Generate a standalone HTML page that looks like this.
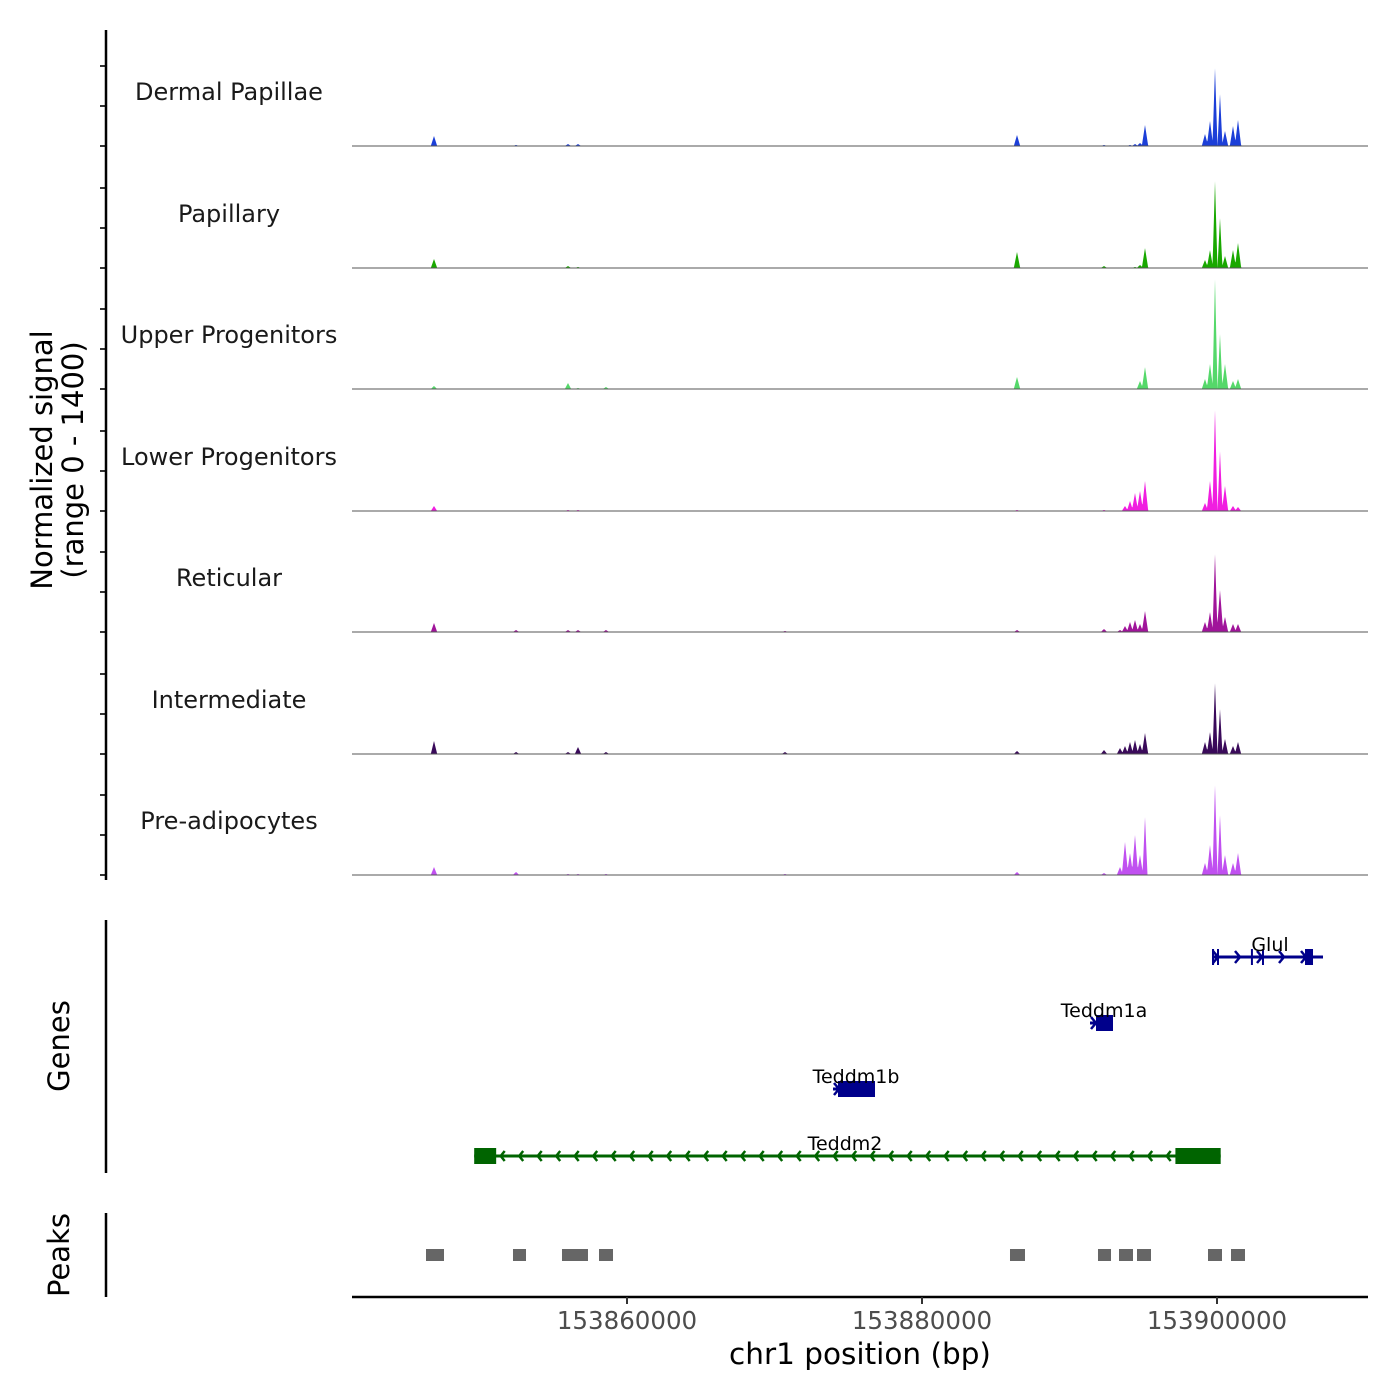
<!DOCTYPE html>
<html><head><meta charset="utf-8"><style>
body{margin:0;background:#fff}
svg{display:block;font-family:"DejaVu Sans","Liberation Sans",sans-serif}
</style></head><body>
<svg id="chart" width="1400" height="1400" viewBox="0 0 1400 1400"></svg>
<script>
const trackNames = ["Dermal Papillae","Papillary","Upper Progenitors","Lower Progenitors","Reticular","Intermediate","Pre-adipocytes"];
const trackColors = ["#1c3fd8","#19a800","#55d86a","#f01ee0","#a0149a","#3a0a5a","#c050f0"];
const peakPositions = [153846915,153852475,153856000,153856678,153858576,153870712,153886441,153892339,153893424,153893763,153894102,153894441,153894780,153895119,153899186,153899525,153899864,153900203,153900542,153901085,153901424];
const dermalValues = [115,12,23,23,0,0,127,12,0,0,12,23,35,242,138,288,898,599,173,230,300];
const papillaryValues = [104,0,23,12,0,0,184,23,0,0,0,12,35,230,92,207,1002,576,138,207,288];
const upperValues = [35,0,69,12,23,0,138,0,0,0,0,0,92,253,115,288,1267,634,288,92,115];
const lowerValues = [58,0,12,12,0,0,12,12,0,58,115,207,230,346,92,346,1164,691,288,58,46];
const reticularValues = [104,23,23,23,23,12,23,35,23,69,115,138,92,242,115,230,898,484,173,92,92];
const intermediateValues = [150,23,23,81,23,23,35,46,69,92,138,161,115,242,138,253,818,518,173,92,138];
const preadipoValues = [92,35,12,12,12,12,35,23,92,380,253,461,230,668,138,346,1037,691,230,138,253];
const trackValues = [dermalValues,papillaryValues,upperValues,lowerValues,reticularValues,intermediateValues,preadipoValues];
const xTicks = [153860000,153880000,153900000];
const xTickLabels = ["153860000","153880000","153900000"];
const peakRegions = [[153846373,153847593],[153852271,153853153],[153855593,153857355],[153858102,153859051],[153885966,153886983],[153891932,153892814],[153893356,153894305],[153894576,153895525],[153899390,153900339],[153900949,153901898]];
const genes = [
 {name:"Glul", start:153899661, end:153907187, row:0, strand:1, exons:[[153899661,153899800],[153900000,153900120],[153902300,153902420],[153903050,153903170],[153905967,153906509]], color:"#00008b"},
 {name:"Teddm1a", start:153891390, end:153892949, row:1, strand:1, exons:[[153891797,153892949]], color:"#00008b"},
 {name:"Teddm1b", start:153873966, end:153876814, row:2, strand:1, exons:[[153874305,153876814]], color:"#00008b"},
 {name:"Teddm2", start:153849640, end:153900250, row:3, strand:-1, exons:[[153849640,153851130],[153897180,153900250]], color:"#006400"}
];
const NS="http://www.w3.org/2000/svg";
const svg=document.getElementById('chart');
const X0=352,X1=1368,BP0=153841356,PXBP=0.01475;
function xs(bp){return X0+(bp-BP0)*PXBP;}
const baselines=[146,268,389,511,632,754,875];
const TH=121.5;
function ys(v,t){return baselines[t]-v/1400*TH;}
function el(tag,attrs,parent){const e=document.createElementNS(NS,tag);for(const k in attrs)e.setAttribute(k,attrs[k]);(parent||svg).appendChild(e);return e;}
trackNames.forEach((nm,t)=>{
  const g=el('g',{});
  
  
  const vals=trackValues[t];
  let d='M'+X0+','+baselines[t];
  for(let x=X0;x<=X1;x+=0.5){
    let v=0;
    peakPositions.forEach((p,i)=>{const dx=Math.abs(x-xs(p));const w=vals[i]>500?2.5:3.2;const c=vals[i]*Math.max(0,1-dx/w);if(c>v)v=c;});
    d+=' L'+x+','+ys(v,t).toFixed(2);
  }
  d+=' L'+X1+','+baselines[t]+' Z';
  const a=el('path',{d:d,fill:trackColors[t],stroke:'none'},g);
  
  
  const b=el('line',{x1:X0,x2:X1,y1:baselines[t],y2:baselines[t],stroke:'#555','stroke-width':1},g);
  
  
  const lb=el('text',{x:229,y:baselines[t]-46,'text-anchor':'middle','font-size':24,fill:'#1a1a1a'},g);
  lb.textContent=nm;
  
  
  for(let k=0;k<3;k++){el('line',{x1:100,x2:106,y1:baselines[t]-k*40,y2:baselines[t]-k*40,stroke:'#333','stroke-width':2},g);}
});
[[30,880],[920,1173],[1213,1297]].forEach(r=>{
  const l=el('line',{x1:106,x2:106,y1:r[0],y2:r[1],stroke:'#000','stroke-width':2.5});
  
  
});
function rotText(txt,x,y,name){const t=el('text',{x:x,y:y,'text-anchor':'middle','font-size':29,fill:'#000',transform:'rotate(-90 '+x+' '+y+')'});t.textContent=txt;}
rotText('Normalized signal',52,460,'y-axis-title');
rotText('(range 0 - 1400)',83,460,'y-axis-subtitle');
rotText('Genes',69,1046,'genes-axis-title');
rotText('Peaks',69,1255,'peaks-axis-title');
const rowY=[957,1023,1089,1156];
genes.forEach(gn=>{
  const g=el('g',{});
  
  
  const y=rowY[gn.row],a=xs(gn.start),b=xs(gn.end);
  el('line',{x1:a,x2:b,y1:y,y2:y,stroke:gn.color,'stroke-width':3},g);
  const step=gn.name==='Glul'?22:18.5;
  for(let x=(gn.strand>0?a+6:a+8);x<b-2;x+=step){
    const dd=gn.strand>0?'M'+(x-5)+','+(y-6)+' L'+x+','+y+' L'+(x-5)+','+(y+6):'M'+(x+4)+','+(y-5)+' L'+x+','+y+' L'+(x+4)+','+(y+5);
    el('path',{d:dd,fill:'none',stroke:gn.color,'stroke-width':2.5},g);
  }
  gn.exons.forEach(e=>{el('rect',{x:xs(e[0]),y:y-8,width:Math.max(2,xs(e[1])-xs(e[0])),height:16,fill:gn.color},g);});
  const lx={Glul:1270,Teddm1a:1104,Teddm1b:856,Teddm2:845}[gn.name];
  const t=el('text',{x:lx,y:y-6,'text-anchor':'middle','font-size':19,fill:'#000'},g);
  t.textContent=gn.name;
});
peakRegions.forEach(p=>{
  const r=el('rect',{x:xs(p[0]),y:1249,width:xs(p[1])-xs(p[0]),height:12,fill:'#666'});
  
  
});
const xl=el('line',{x1:X0,x2:X1,y1:1297,y2:1297,stroke:'#000','stroke-width':2.5});


xTicks.forEach((v,i)=>{
  el('line',{x1:xs(v),x2:xs(v),y1:1297,y2:1304,stroke:'#333','stroke-width':2});
  const t=el('text',{x:xs(v),y:1329,'text-anchor':'middle','font-size':24.5,fill:'#4d4d4d'});
  t.textContent=xTickLabels[i];
  
  
});
const xt=el('text',{x:860,y:1364,'text-anchor':'middle','font-size':29.5,fill:'#000'});
xt.textContent='chr1 position (bp)';


</script>
</body></html>
